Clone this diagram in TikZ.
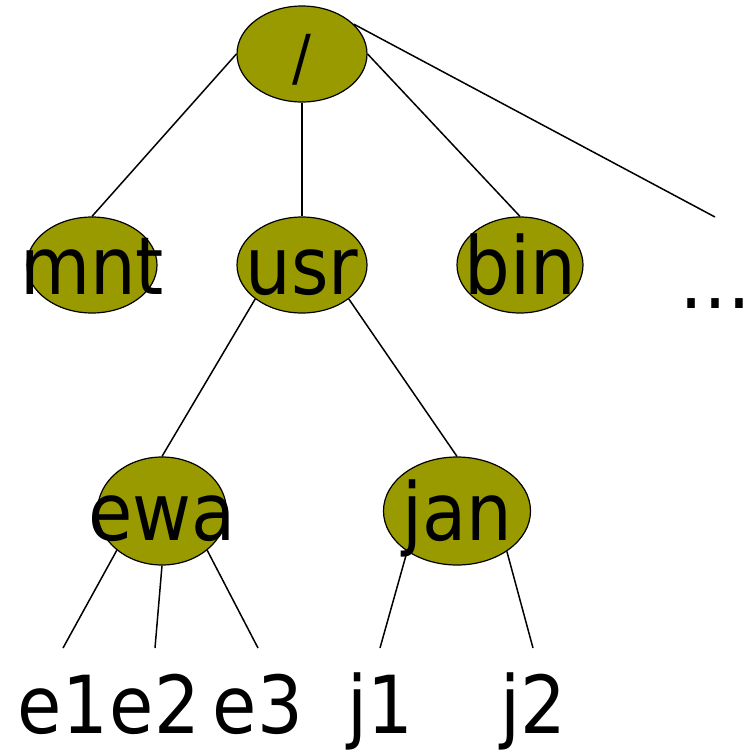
\documentclass[tikz,border=0pt]{standalone}
\usepackage{fontspec}
\newfontfamily\treefont[FakeStretch=0.9]{DejaVu Sans}
\usetikzlibrary{shapes.geometric}
\definecolor{olivefill}{RGB}{153,153,0}
\tikzset{
	dir/.style={ellipse, draw=black, fill=olivefill, line width=0.6pt, minimum width=65pt, minimum height=48pt, inner sep=0pt},
	dirname/.style={font=\treefont\fontsize{40}{48}\selectfont, inner sep=0pt, text height=29.2pt, text depth=0pt},
	leaf/.style={dirname, anchor=north, inner ysep=13.5pt},
	link/.style={line width=0.75pt}
}
\begin{document}
\begin{tikzpicture}[x=0.5pt, y=-0.5pt]
	\useasboundingbox (0,0) rectangle (756,751);
	% directories
	\node[dir, label={[dirname, font=\treefont\fontsize{31}{37}\selectfont, text height=22.6pt, yshift=-1.5pt]center:/}] (root) at (302,54) {};
	\node[dir, label={[dirname]center:mnt}] (mnt) at (92,265) {};
	\node[dir, label={[dirname]center:usr}] (usr) at (302,265) {};
	\node[dir, minimum width=63pt, label={[dirname]center:bin}] (bin) at (520,265) {};
	\node[dir, minimum width=64.5pt, minimum height=54pt, label={[dirname]center:ewa}] (ewa) at (162,511) {};
	\node[dir, minimum width=73.5pt, minimum height=54pt, label={[dirname]center:jan}] (jan) at (457,511) {};
	\coordinate (more) at (715,217);
	\node[dirname, anchor=base] (dots) at (715,308) {…};
	% files
	\node[leaf] (e1) at (63,648) {e1};
	\node[leaf] (e2) at (155,648) {e2};
	\node[leaf] (e3) at (258,648) {e3};
	\node[leaf] (j1) at (380,648) {j1};
	\node[leaf] (j2) at (533,648) {j2};
	% links
	\draw[link] (root.west) -- (mnt.north);
	\draw[link] (root.south) -- (usr.north);
	\draw[link] (root.east) -- (bin.north);
	\draw[link] (root.30) -- (more);
	\draw[link] (usr.216) -- (ewa.north);
	\draw[link] (usr.324) -- (jan.north);
	\draw[link] (ewa.221) -- (e1.north);
	\draw[link] (ewa.south) -- (e2.north);
	\draw[link] (ewa.319) -- (e3.north);
	\draw[link] (jan.219) -- (j1.north);
	\draw[link] (jan.321) -- (j2.north);
\end{tikzpicture}
\end{document}
